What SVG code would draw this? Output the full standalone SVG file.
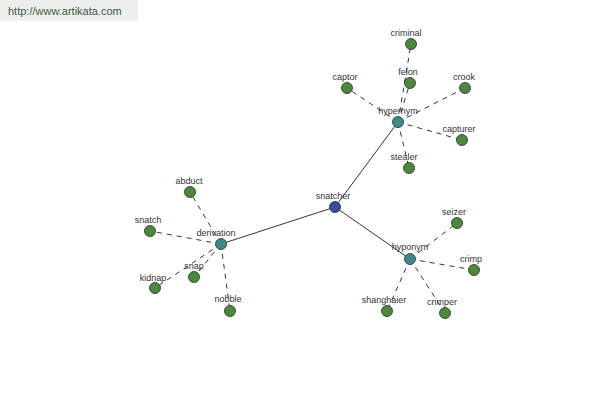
<svg xmlns="http://www.w3.org/2000/svg" width="600" height="400" viewBox="0 0 600 400">
<style>
.n{stroke:#2a2a2a;stroke-width:0.8}
.g{fill:#4b8a3c}
.t{fill:#3d8a8a}
.b{fill:#3b4a9c}
text{font-family:"Liberation Sans",Arial,sans-serif;font-size:9px;fill:#333;text-anchor:middle}
.s{stroke:#000;stroke-width:0.8;fill:none}
.d{stroke:#000;stroke-width:0.8;fill:none;stroke-dasharray:5,5}
</style>
<rect width="600" height="400" fill="#fff"/>
<g id="header">
<rect x="0" y="0" width="138" height="21" fill="#eeeeee"/>
<text x="8" y="15" style="font-size:11px;text-anchor:start;fill:#3f5a3f">http://www.artikata.com</text>
</g>
<g id="connectors">
<line class="s" x1="335" y1="207" x2="398" y2="122"/>
<line class="s" x1="335" y1="207" x2="221" y2="244"/>
<line class="s" x1="335" y1="207" x2="410" y2="259"/>
<line class="d" x1="398" y1="122" x2="411" y2="44"/>
<line class="d" x1="398" y1="122" x2="410" y2="83"/>
<line class="d" x1="398" y1="122" x2="347" y2="88"/>
<line class="d" x1="398" y1="122" x2="465" y2="88"/>
<line class="d" x1="398" y1="122" x2="462" y2="140"/>
<line class="d" x1="398" y1="122" x2="409" y2="168"/>
<line class="d" x1="221" y1="244" x2="190" y2="192"/>
<line class="d" x1="221" y1="244" x2="150" y2="231"/>
<line class="d" x1="221" y1="244" x2="194" y2="277"/>
<line class="d" x1="221" y1="244" x2="155" y2="288"/>
<line class="d" x1="221" y1="244" x2="230" y2="311"/>
<line class="d" x1="410" y1="259" x2="457" y2="223"/>
<line class="d" x1="410" y1="259" x2="474" y2="270"/>
<line class="d" x1="410" y1="259" x2="387" y2="311"/>
<line class="d" x1="410" y1="259" x2="445" y2="313"/>
</g>
<g id="criminal"><circle class="n g" cx="411" cy="44" r="5.5"/><text x="406" y="36">criminal</text></g>
<g id="felon"><circle class="n g" cx="410" cy="83" r="5.5"/><text x="408" y="75">felon</text></g>
<g id="captor"><circle class="n g" cx="347" cy="88" r="5.5"/><text x="345" y="80">captor</text></g>
<g id="crook"><circle class="n g" cx="465" cy="88" r="5.5"/><text x="464" y="80">crook</text></g>
<g id="capturer"><circle class="n g" cx="462" cy="140" r="5.5"/><text x="459" y="132">capturer</text></g>
<g id="stealer"><circle class="n g" cx="409" cy="168" r="5.5"/><text x="404" y="160">stealer</text></g>
<g id="abduct"><circle class="n g" cx="190" cy="192" r="5.5"/><text x="189" y="184">abduct</text></g>
<g id="snatch"><circle class="n g" cx="150" cy="231" r="5.5"/><text x="148" y="223">snatch</text></g>
<g id="snap"><circle class="n g" cx="194" cy="277" r="5.5"/><text x="194" y="269">snap</text></g>
<g id="kidnap"><circle class="n g" cx="155" cy="288" r="5.5"/><text x="153" y="281">kidnap</text></g>
<g id="nobble"><circle class="n g" cx="230" cy="311" r="5.5"/><text x="228" y="302">nobble</text></g>
<g id="seizer"><circle class="n g" cx="457" cy="223" r="5.5"/><text x="454" y="215">seizer</text></g>
<g id="crimp"><circle class="n g" cx="474" cy="270" r="5.5"/><text x="471" y="262">crimp</text></g>
<g id="shanghaier"><circle class="n g" cx="387" cy="311" r="5.5"/><text x="384" y="303">shanghaier</text></g>
<g id="crimper"><circle class="n g" cx="445" cy="313" r="5.5"/><text x="442" y="305">crimper</text></g>
<g id="hypernym"><circle class="n t" cx="398" cy="122" r="5.5"/><text x="398" y="114">hypernym</text></g>
<g id="derivation"><circle class="n t" cx="221" cy="244" r="5.5"/><text x="216" y="236">derivation</text></g>
<g id="hyponym"><circle class="n t" cx="410" cy="259" r="5.5"/><text x="410" y="250">hyponym</text></g>
<g id="snatcher"><circle class="n b" cx="335" cy="207" r="5.5"/><text x="333" y="199">snatcher</text></g>
</svg>
